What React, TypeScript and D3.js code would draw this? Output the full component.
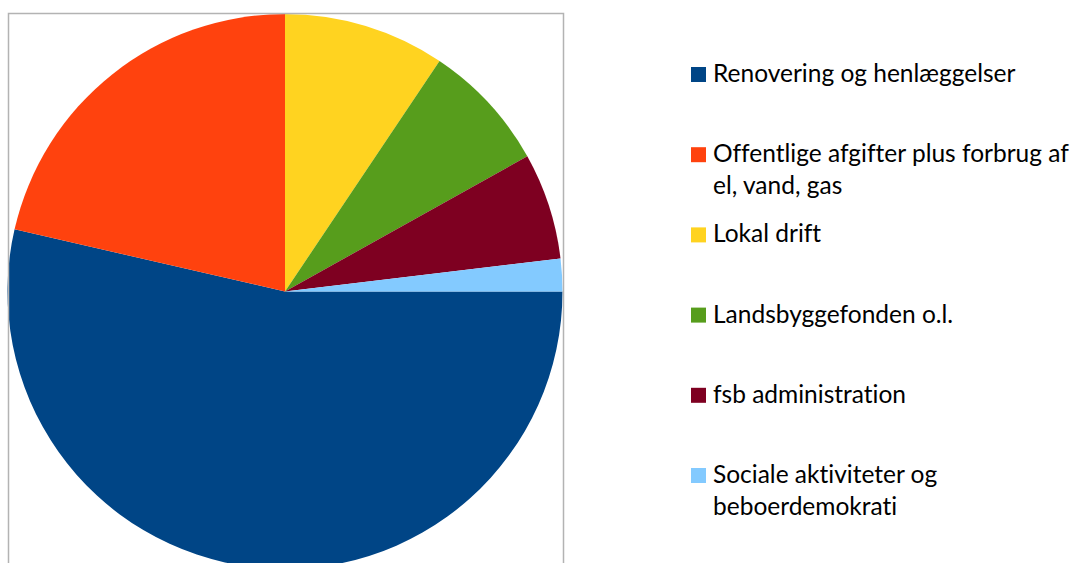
import React from "react";
import * as d3 from "d3";

const categories: string[][] = [
  ["Renovering og henlæggelser"],
  ["Offentlige afgifter plus forbrug af", "el, vand, gas"],
  ["Lokal drift"],
  ["Landsbyggefonden o.l."],
  ["fsb administration"],
  ["Sociale aktiviteter og", "beboerdemokrati"],
];
const values: number[] = [53.6, 21.4, 9.4, 7.5, 6.2, 1.9];
const colors: string[] = ["#004586", "#ff420e", "#ffd320", "#579d1c", "#7e0021", "#83caff"];

const W = 1075;
const H = 563;
const cx = 285;
const cy = 291.5;
const R = 277.5;

export default function App() {
  const pie = d3
    .pie<number>()
    .sort(null)
    .startAngle(Math.PI / 2)
    .endAngle(Math.PI / 2 + 2 * Math.PI)
    .value((d) => d);
  const arcs = pie(values);
  const arcGen = d3.arc<d3.PieArcDatum<number>>().innerRadius(0).outerRadius(R);

  const legendY = d3.scaleLinear().domain([0, 5]).range([82, 483]);

  return (
    <svg
      width={W}
      height={H}
      style={{ position: "absolute", left: 0, top: 0, background: "#fff" }}
    >
      <rect x={0} y={0} width={W} height={H} fill="#fff" />
      <g transform={`translate(${cx},${cy})`}>
        {arcs.map((a, i) => (
          <path key={i} d={arcGen(a) || ""} fill={colors[i]} />
        ))}
      </g>
      <path
        d={`M8.5,${H + 5} L8.5,13.5 L563.5,13.5 L563.5,${H + 5}`}
        fill="none"
        stroke="#b3b3b3"
        strokeWidth={1.5}
      />
      <g
        fontFamily="Lato, Carlito, sans-serif"
        fontSize={24.5}
        fill="#000"
        style={{ fontVariantLigatures: "none", fontFeatureSettings: '"liga" 0, "clig" 0' }}
      >
        {categories.map((lines, i) => {
          const y = legendY(i);
          return (
            <g key={i}>
              <rect x={691} y={y - 15} width={15} height={15} fill={colors[i]} />
              {lines.map((t, j) => (
                <text key={j} x={713} y={y + j * 32}>
                  {t}
                </text>
              ))}
            </g>
          );
        })}
      </g>
    </svg>
  );
}
